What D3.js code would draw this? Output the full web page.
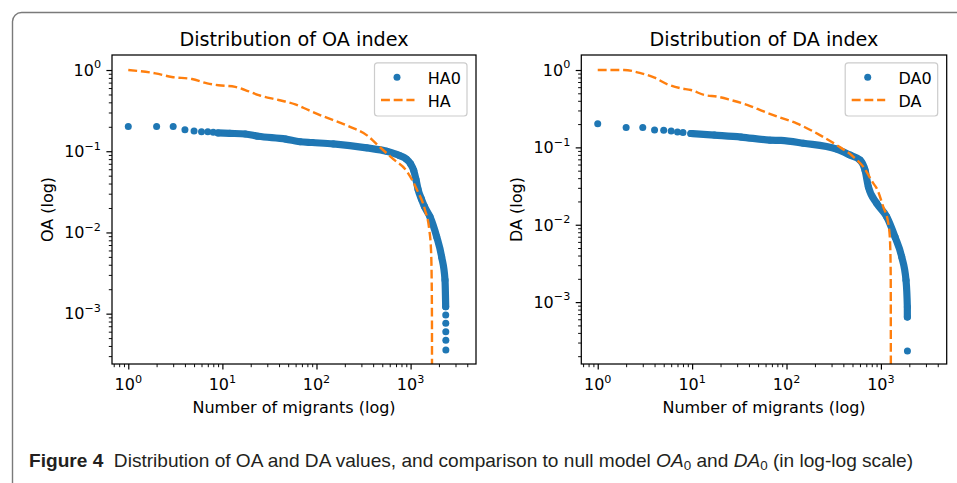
<!DOCTYPE html>
<meta charset="utf-8">
<style>
body { margin: 0; background: #fff; }
svg { display: block; font-family: "DejaVu Sans", sans-serif; }
.caption { font-family: "Liberation Sans Narrow", "Liberation Sans", sans-serif; white-space: pre; fill: #231f20; }
</style>
<body>
<svg width="957" height="483"></svg>
<script src="https://cdn.jsdelivr.net/npm/d3@7/dist/d3.min.js"></script>
<script>
// ---- OA panel ----
var haRank  = [1, 1.94, 2.9, 4.75, 6.9, 9.1, 13.7, 17.5, 24.3, 39.6, 59.6, 82.6, 109, 227, 341, 473, 560, 655, 908, 1161, 1422, 1581, 1648, 1675, 1687, 1690];
var haValue = [1.0, 0.91, 0.82, 0.775, 0.686, 0.65, 0.62, 0.567, 0.49, 0.427, 0.378, 0.32, 0.279, 0.200, 0.158, 0.112, 0.094, 0.080, 0.057, 0.034, 0.0189, 0.0107, 0.0061, 0.0026, 0.00076, 0.000001];

var ha0DotRank  = [1, 2, 3, 4, 5, 6, 7, 8, 2362, 2364, 2366, 2368, 2370];
var ha0DotValue = [0.202, 0.202, 0.202, 0.184, 0.177, 0.174, 0.174, 0.171, 0.00096, 0.00076, 0.0006, 0.00047, 0.000356];
var ha0BandRank  = [9, 12, 17.5, 24, 47, 67, 90, 151, 341, 557, 771, 900, 1000, 1080, 1140, 1200, 1300, 1400, 1607, 1893, 2138, 2321, 2360];
var ha0BandValue = [0.168, 0.166, 0.163, 0.153, 0.141, 0.131, 0.128, 0.123, 0.110, 0.100, 0.088, 0.080, 0.070, 0.058, 0.045, 0.034, 0.026, 0.021, 0.0156, 0.00886, 0.005, 0.0026, 0.00122];

// ---- DA panel ----
var daRank  = [1, 1.9, 2.9, 4, 5.5, 7.6, 9.7, 13.5, 18.7, 25.8, 38.8, 58.2, 80.7, 128, 226, 340, 511, 652, 832, 903, 1060, 1197, 1248, 1270, 1279];
var daValue = [1.0, 1.0, 0.906, 0.796, 0.653, 0.58, 0.551, 0.475, 0.452, 0.409, 0.352, 0.289, 0.249, 0.204, 0.144, 0.107, 0.0756, 0.056, 0.0342, 0.0295, 0.017, 0.0104, 0.0063, 0.0023, 0.000001];

var da0DotRank  = [1, 2, 3, 4, 5, 6, 7, 8, 1910];
var da0DotValue = [0.202, 0.181, 0.181, 0.168, 0.166, 0.163, 0.158, 0.156, 0.000234];
var da0BandRank  = [9.7, 17.2, 33, 67, 87.5, 151, 340, 471, 601, 679, 736, 903, 1151, 1409, 1660, 1845, 1905, 1906];
var da0BandValue = [0.151, 0.144, 0.136, 0.124, 0.123, 0.113, 0.095, 0.0795, 0.0685, 0.0508, 0.031, 0.0189, 0.0127, 0.00698, 0.00385, 0.00192, 0.000867, 0.00064];

var xMajor = [1, 10, 100, 1000];
var yMajor = [1, 0.1, 0.01, 0.001];
var xMajorExp = ["0", "1", "2", "3"];
var yMajorExp = ["0", "\u22121", "\u22122", "\u22123"];

var blue = "#1f77b4", orange = "#ff7f0e";
var svg = d3.select("svg");

// outer frame of the figure box
svg.append("rect")
    .attr("x", 12.5).attr("y", 12.5)
    .attr("width", 1000).attr("height", 1000)
    .attr("rx", 9)
    .attr("fill", "none")
    .attr("stroke", "#7a7a7a")
    .attr("stroke-width", 1.4);

function minorTicks(lo, hi) {
  var out = [];
  for (var e = -6; e <= 5; e++) {
    for (var m = 2; m <= 9; m++) {
      var v = m * Math.pow(10, e);
      if (v >= lo && v <= hi) out.push(v);
    }
  }
  return out;
}

function panel(p) {
  var x = d3.scaleLog().domain(p.xDomain).range([p.left, p.right]);
  var y = d3.scaleLog().domain(p.yDomain).range([p.top, p.bottom]);
  var g = svg.append("g");

  g.append("clipPath").attr("id", p.id + "clip")
    .append("rect")
      .attr("x", p.left).attr("y", p.top)
      .attr("width", p.right - p.left).attr("height", p.bottom - p.top);

  // ticks (outward, like matplotlib)
  g.append("g").attr("transform", "translate(0," + p.bottom + ")")
      .call(d3.axisBottom(x).tickValues(xMajor).tickSize(5.6).tickFormat(""))
      .call(function(a) { a.select(".domain").remove(); a.selectAll("line").attr("stroke-width", 1.2); });
  g.append("g").attr("transform", "translate(0," + p.bottom + ")")
      .call(d3.axisBottom(x).tickValues(minorTicks(p.xDomain[0], p.xDomain[1])).tickSize(3.2).tickFormat(""))
      .call(function(a) { a.select(".domain").remove(); a.selectAll("line").attr("stroke-width", 0.95); });
  g.append("g").attr("transform", "translate(" + p.left + ",0)")
      .call(d3.axisLeft(y).tickValues(yMajor).tickSize(5.6).tickFormat(""))
      .call(function(a) { a.select(".domain").remove(); a.selectAll("line").attr("stroke-width", 1.2); });
  g.append("g").attr("transform", "translate(" + p.left + ",0)")
      .call(d3.axisLeft(y).tickValues(minorTicks(p.yDomain[1], p.yDomain[0])).tickSize(3.2).tickFormat(""))
      .call(function(a) { a.select(".domain").remove(); a.selectAll("line").attr("stroke-width", 0.95); });

  // tick labels 10^n
  xMajor.forEach(function(v, i) {
    var t = g.append("text")
        .attr("x", x(v)).attr("y", p.bottom + 26)
        .attr("text-anchor", "middle")
        .attr("font-size", 16);
    t.append("tspan").text("10");
    t.append("tspan").attr("dy", -7.5).attr("font-size", 11.2).text(xMajorExp[i]);
  });
  yMajor.forEach(function(v, i) {
    var t = g.append("text")
        .attr("x", p.left - 11).attr("y", y(v) + 5.8)
        .attr("text-anchor", "end")
        .attr("font-size", 16);
    t.append("tspan").text("10");
    t.append("tspan").attr("dy", -7.5).attr("font-size", 11.2).text(yMajorExp[i]);
  });

  // titles and axis labels
  var cx = (p.left + p.right) / 2;
  g.append("text").attr("x", cx).attr("y", 46.3)
      .attr("text-anchor", "middle").attr("font-size", 19.2).text(p.title);
  g.append("text").attr("x", cx).attr("y", 412.5)
      .attr("text-anchor", "middle").attr("font-size", 16).text("Number of migrants (log)");
  g.append("text")
      .attr("transform", "translate(" + p.yLabelX + "," + ((p.top + p.bottom) / 2) + ") rotate(-90)")
      .attr("text-anchor", "middle").attr("font-size", 16).text(p.yLabel);

  var plot = g.append("g").attr("clip-path", "url(#" + p.id + "clip)");

  // dense part of the scatter drawn as a band of overlapping markers
  var bandPts = p.bandRank.map(function(r, i) { return [r, p.bandValue[i]]; });
  plot.append("path")
      .datum(bandPts)
      .attr("fill", "none")
      .attr("stroke", blue)
      .attr("stroke-width", 7.2)
      .attr("stroke-linecap", "round")
      .attr("stroke-linejoin", "round")
      .attr("d", d3.line().x(function(d) { return x(d[0]); }).y(function(d) { return y(d[1]); }).curve(d3.curveMonotoneX));

  var dots = p.dotRank.map(function(r, i) { return [r, p.dotValue[i]]; }).concat(bandPts);
  plot.selectAll("circle.pt").data(dots).enter().append("circle")
      .attr("class", "pt")
      .attr("cx", function(d) { return x(d[0]); })
      .attr("cy", function(d) { return y(d[1]); })
      .attr("r", 3.5)
      .attr("fill", blue);

  var linePts = p.lineRank.map(function(r, i) { return [r, p.lineValue[i]]; });
  plot.append("path")
      .datum(linePts)
      .attr("fill", "none")
      .attr("stroke", orange)
      .attr("stroke-width", 2.4)
      .attr("stroke-dasharray", "8.9,3.8")
      .attr("d", d3.line().x(function(d) { return x(d[0]); }).y(function(d) { return y(d[1]); }).curve(d3.curveMonotoneX));

  // spines
  g.append("rect")
      .attr("x", p.left).attr("y", p.top)
      .attr("width", p.right - p.left).attr("height", p.bottom - p.top)
      .attr("fill", "none").attr("stroke", "#000").attr("stroke-width", 1.25);

  // legend
  var lx = p.right - 101.5, ly = p.top + 7.8;
  g.append("rect")
      .attr("x", lx).attr("y", ly).attr("width", 92.5).attr("height", 53.2)
      .attr("rx", 3).attr("fill", "#fff").attr("fill-opacity", 0.8)
      .attr("stroke", "#cccccc").attr("stroke-width", 1.2);
  g.append("circle").attr("cx", lx + 22.5).attr("cy", ly + 14.5).attr("r", 3.5).attr("fill", blue);
  g.append("line")
      .attr("x1", lx + 6.5).attr("x2", lx + 40).attr("y1", ly + 37.2).attr("y2", ly + 37.2)
      .attr("stroke", orange).attr("stroke-width", 2.4).attr("stroke-dasharray", "8.9,3.8");
  g.append("text").attr("x", lx + 53.3).attr("y", ly + 21.5).attr("font-size", 16).text(p.dotName);
  g.append("text").attr("x", lx + 53.3).attr("y", ly + 43.9).attr("font-size", 16).text(p.lineName);
}

panel({
  id: "oa", left: 112, right: 476, top: 55, bottom: 364,
  xDomain: [Math.pow(10, -0.173), Math.pow(10, 3.695)],
  yDomain: [Math.pow(10, 0.185), Math.pow(10, -3.62)],
  title: "Distribution of OA index", yLabel: "OA (log)", yLabelX: 53,
  lineRank: haRank, lineValue: haValue,
  dotRank: ha0DotRank, dotValue: ha0DotValue,
  bandRank: ha0BandRank, bandValue: ha0BandValue,
  dotName: "HA0", lineName: "HA"
});

panel({
  id: "da", left: 581.3, right: 946.7, top: 55, bottom: 364,
  xDomain: [Math.pow(10, -0.174), Math.pow(10, 3.697)],
  yDomain: [Math.pow(10, 0.194), Math.pow(10, -3.80)],
  title: "Distribution of DA index", yLabel: "DA (log)", yLabelX: 521.7,
  lineRank: daRank, lineValue: daValue,
  dotRank: da0DotRank, dotValue: da0DotValue,
  bandRank: da0BandRank, bandValue: da0BandValue,
  dotName: "DA0", lineName: "DA"
});

// caption
var cap = svg.append("text")
    .attr("class", "caption")
    .attr("x", 29).attr("y", 466.5)
    .attr("font-size", 18.5)
    .attr("textLength", 884)
    .attr("lengthAdjust", "spacingAndGlyphs");
cap.append("tspan").attr("font-weight", "bold").text("Figure 4");
cap.append("tspan").text("  Distribution of OA and DA values, and comparison to null model ");
cap.append("tspan").attr("font-style", "italic").text("OA");
cap.append("tspan").attr("font-size", 13).attr("dy", 3).text("0");
cap.append("tspan").attr("dy", -3).text(" and ");
cap.append("tspan").attr("font-style", "italic").text("DA");
cap.append("tspan").attr("font-size", 13).attr("dy", 3).text("0");
cap.append("tspan").attr("dy", -3).text(" (in log-log scale)");
</script>
